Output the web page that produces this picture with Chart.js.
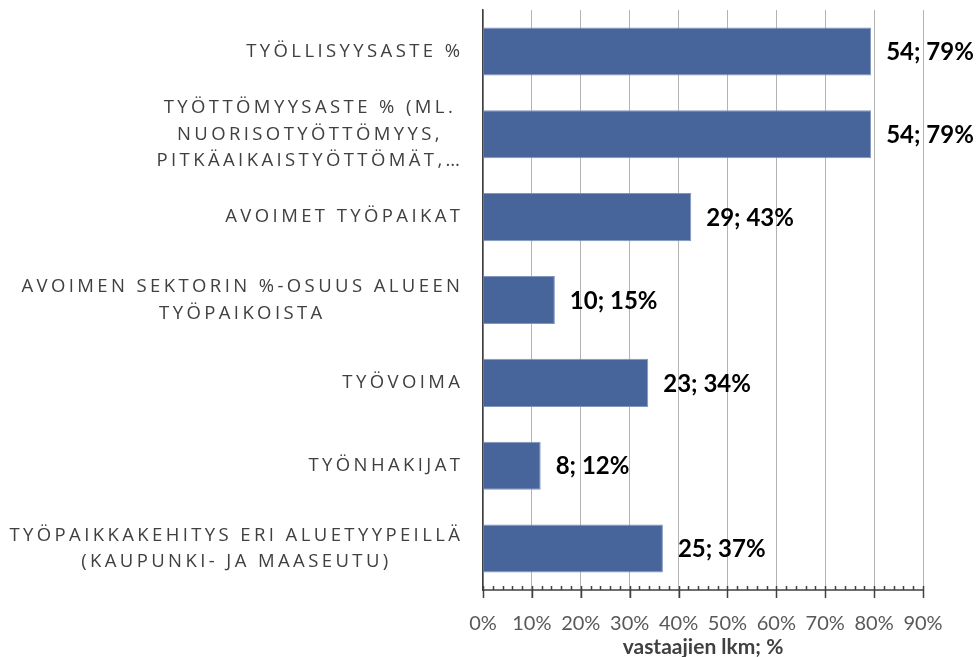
<!DOCTYPE html>
<html>
<head>
<meta charset="utf-8">
<script src="https://cdn.jsdelivr.net/npm/chart.js@4/dist/chart.umd.min.js"></script>
<style>
    html, body { margin: 0; padding: 0; background: #fff; }
    #wrap { width: 976px; height: 657px; }
</style>
</head>
<body>
<div id="wrap"><canvas id="barChart" width="976" height="657"></canvas></div>
<script>
const categories = [
    'TYÖLLISYYSASTE %',
    ['TYÖTTÖMYYSASTE % (ML.', 'NUORISOTYÖTTÖMYYS,', 'PITKÄAIKAISTYÖTTÖMÄT,…'],
    'AVOIMET TYÖPAIKAT',
    ['AVOIMEN SEKTORIN %-OSUUS ALUEEN', 'TYÖPAIKOISTA'],
    'TYÖVOIMA',
    'TYÖNHAKIJAT',
    ['TYÖPAIKKAKEHITYS ERI ALUETYYPEILLÄ', '(KAUPUNKI- JA MAASEUTU)']
];
const counts = [54, 54, 29, 10, 23, 8, 25];
const percents = [79.4, 79.4, 42.6, 14.7, 33.8, 11.8, 36.8];
const xTicks = [0, 10, 20, 30, 40, 50, 60, 70, 80, 90];

const LABEL_FONT = '18.5px "Open Sans"';
const LABEL_SPACING = 3.4;

// category labels with letter spacing, each block right-aligned, lines centred
const catLabels = {
    id: 'catLabels',
    afterDraw(chart) {
        const ctx = chart.ctx;
        const y = chart.scales.y;
        const right = chart.chartArea.left - 23;
        ctx.save();
        ctx.font = LABEL_FONT;
        ctx.letterSpacing = LABEL_SPACING + 'px';
        ctx.fillStyle = '#404040';
        ctx.textBaseline = 'middle';
        ctx.textAlign = 'left';
        const lh = 26.5;
        categories.forEach((lab, i) => {
            const lines = Array.isArray(lab) ? lab : [lab];
            const widths = lines.map(l => ctx.measureText(l).width - LABEL_SPACING);
            const blockW = Math.max(...widths);
            const cx = right - blockW / 2;
            const cy = y.getPixelForTick(i);
            lines.forEach((l, j) => {
                const ly = cy + (j - (lines.length - 1) / 2) * lh;
                ctx.fillText(l, cx - widths[j] / 2, ly);
            });
        });
        ctx.restore();
    }
};

// minor + major tick marks on the x axis
const axisTicks = {
    id: 'axisTicks',
    afterDraw(chart) {
        const ctx = chart.ctx;
        const x = chart.scales.x;
        const base = chart.chartArea.bottom;
        ctx.save();
        ctx.strokeStyle = '#404040';
        ctx.lineWidth = 1.5;
        ctx.beginPath();
        ctx.moveTo(x.left, base);
        ctx.lineTo(x.right, base);
        for (let v = 0; v <= 90; v += 2) {
            const px = Math.round(x.getPixelForValue(v)) + 0.5;
            const major = v % 10 === 0;
            ctx.moveTo(px, base - 4);
            ctx.lineTo(px, major ? base + 8 : base);
        }
        ctx.stroke();
        ctx.restore();
    }
};

const valueLabels = {
    id: 'valueLabels',
    afterDatasetsDraw(chart) {
        const ctx = chart.ctx;
        const meta = chart.getDatasetMeta(0);
        ctx.save();
        ctx.font = 'bold 24px Lato';
        ctx.fillStyle = '#000';
        ctx.textBaseline = 'middle';
        ctx.textAlign = 'left';
        meta.data.forEach((bar, i) => {
            ctx.fillText(counts[i] + '; ' + Math.round(percents[i]) + '%', bar.x + 15, bar.y + 1);
        });
        ctx.restore();
    }
};

const ctx = document.getElementById('barChart').getContext('2d');
new Chart(ctx, {
    type: 'bar',
    data: {
        labels: categories,
        datasets: [{
            data: percents,
            backgroundColor: '#47659b',
            borderColor: '#8196bf',
            borderWidth: 1,
            barPercentage: 0.58,
            categoryPercentage: 1
        }]
    },
    options: {
        indexAxis: 'y',
        responsive: false,
        animation: false,
        layout: { padding: { top: 10, right: 53, bottom: 0, left: 0 } },
        plugins: { legend: { display: false }, tooltip: { enabled: false } },
        scales: {
            x: {
                min: 0,
                max: 90,
                afterBuildTicks: s => { s.ticks = xTicks.map(v => ({ value: v })); },
                afterFit: s => { s.height = 67; },
                ticks: {
                    callback: v => v + '%',
                    font: { family: 'Lato', size: 20 },
                    color: '#595959',
                    padding: 14
                },
                grid: { color: '#b4b4b4', lineWidth: 1, tickLength: 8, drawTicks: true },
                border: { display: false },
                title: {
                    display: true,
                    text: 'vastaajien lkm; %',
                    font: { family: 'Lato', size: 21, weight: 'bold', lineHeight: 1 },
                    color: '#404040',
                    padding: { top: 0, bottom: -1 }
                }
            },
            y: {
                ticks: { display: false },
                grid: { display: false },
                border: { display: true, color: '#404040', width: 1.5 },
                afterFit: s => { s.width = 483; }
            }
        }
    },
    plugins: [catLabels, axisTicks, valueLabels]
});
</script>
</body>
</html>
